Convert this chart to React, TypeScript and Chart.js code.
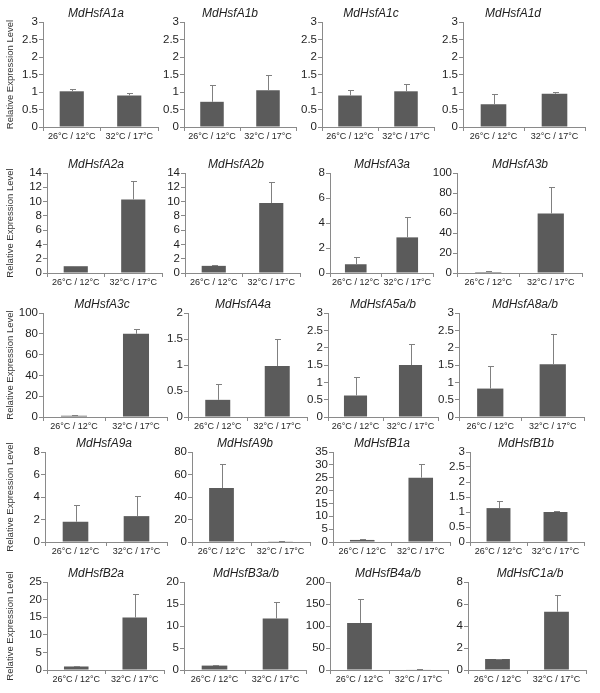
import React, { useEffect, useRef } from 'react';
import { Chart, registerables } from 'chart.js';

Chart.register(...registerables);
Chart.defaults.font.family = '"Liberation Sans", Arial, sans-serif';

// ---------- data ----------
const categories = ['26°C / 12°C', '32°C / 17°C'];
const genes = [
  'MdHsfA1a', 'MdHsfA1b', 'MdHsfA1c', 'MdHsfA1d',
  'MdHsfA2a', 'MdHsfA2b', 'MdHsfA3a', 'MdHsfA3b',
  'MdHsfA3c', 'MdHsfA4a', 'MdHsfA5a/b', 'MdHsfA8a/b',
  'MdHsfA9a', 'MdHsfA9b', 'MdHsfB1a', 'MdHsfB1b',
  'MdHsfB2a', 'MdHsfB3a/b', 'MdHsfB4a/b', 'MdHsfC1a/b',
];
const yMax = [3, 3, 3, 3, 14, 14, 8, 100, 100, 2, 3, 3, 8, 80, 35, 3, 25, 20, 200, 8];
const yStep = [0.5, 0.5, 0.5, 0.5, 2, 2, 2, 20, 20, 0.5, 0.5, 0.5, 2, 20, 5, 0.5, 5, 5, 50, 2];
const mean26 = [1.02, 0.72, 0.9, 0.65, 0.95, 1.0, 0.7, 1.0, 1.2, 0.33, 0.62, 0.82, 1.8, 48, 0.8, 1.13, 1.0, 1.0, 107, 1.0];
const err26 = [0.08, 0.47, 0.15, 0.3, 0.1, 0.1, 0.55, 0.6, 0.6, 0.3, 0.52, 0.66, 1.45, 21.5, 0.2, 0.25, 0.12, 0.12, 55, 0.03];
const mean32 = [0.9, 1.05, 1.02, 0.95, 10.3, 9.8, 2.85, 59.5, 80, 0.98, 1.5, 1.52, 2.3, 0.6, 25, 1.0, 14.9, 11.7, 1.0, 5.3];
const err32 = [0.08, 0.45, 0.2, 0.06, 2.6, 3.0, 1.6, 26.5, 5, 0.52, 0.6, 0.88, 1.8, 0.3, 5.3, 0.02, 6.7, 3.8, 0.5, 1.5];
const yAxisTitle = 'Relative Expression Level';

// ---------- layout (pixel geometry of each panel's plot area) ----------
const rowTop = [22, 173, 313, 452, 582];
const rowBottom = [127, 273, 417, 542, 670];
const plotLeft = [43, 184, 322, 463, 47, 185, 330, 457, 43, 188, 328, 459, 45, 192, 333, 470, 47, 184, 330, 468];
const plotRight = [158, 296, 434, 585, 162, 300, 433, 582, 167, 307, 438, 584, 167, 310, 450, 584, 164, 306, 448, 586];
const titleX = [96, 230, 371, 513, 96, 236, 382, 520, 102, 243, 383, 525, 104, 245, 382, 526, 96, 246, 388, 530];

// ---------- styles ----------
const BAR = '#5b5b5b';
const AXIS = '#8a8a8a';
const ERR = '#808080';
const TEXT = '#1e1e1e';

const errorBarPlugin = {
  id: 'errorBars',
  afterDatasetsDraw(chart: any) {
    const ds = chart.data.datasets[0];
    const meta = chart.getDatasetMeta(0);
    const ys = chart.scales.y;
    const ctx = chart.ctx;
    ctx.save();
    ctx.strokeStyle = ERR;
    ctx.lineWidth = 1;
    meta.data.forEach((bar: any, j: number) => {
      const v = ds.data[j];
      const e = ds.errors[j];
      const x = Math.round(bar.x) + 0.5;
      const y0 = ys.getPixelForValue(v);
      const y1 = Math.round(ys.getPixelForValue(v + e)) + 0.5;
      ctx.beginPath();
      ctx.moveTo(x, y0);
      ctx.lineTo(x, y1);
      ctx.moveTo(x - 2.5, y1);
      ctx.lineTo(x + 3.5, y1);
      ctx.stroke();
    });
    ctx.restore();
  },
};

const makeTitlePlugin = (text: string, x: number) => ({
  id: 'panelTitle',
  afterDraw(chart: any) {
    const ctx = chart.ctx;
    ctx.save();
    ctx.font = 'italic 12px "Liberation Sans", Arial, sans-serif';
    ctx.fillStyle = TEXT;
    ctx.textAlign = 'center';
    ctx.textBaseline = 'middle';
    ctx.fillText(text, x, chart.chartArea.top - 8);
    ctx.restore();
  },
});

const fmt = (v: any) => String(Number(Number(v).toFixed(2)));

function Panel({ i }: { i: number }) {
  const ref = useRef<HTMLCanvasElement>(null);
  const col = i % 4;
  const row = Math.floor(i / 4);
  const L = plotLeft[i];
  const R = plotRight[i];
  const T = rowTop[row];
  const B = rowBottom[row];
  const yW = col === 0 ? L - 3 : 30;
  const cl = L - yW;
  const padTop = 16;
  const xH = 16;
  const padRight = 6;
  const ct = T - padTop;
  const w = R + padRight - cl;
  const h = B - T + padTop + xH;

  useEffect(() => {
    const chart = new Chart(ref.current as HTMLCanvasElement, {
      type: 'bar',
      data: {
        labels: categories,
        datasets: [
          {
            data: [mean26[i], mean32[i]],
            errors: [err26[i], err32[i]],
            backgroundColor: BAR,
            borderWidth: 0,
            barPercentage: 0.42,
            categoryPercentage: 1,
          } as any,
        ],
      },
      options: {
        responsive: false,
        animation: false,
        devicePixelRatio: 1,
        layout: { padding: { top: padTop, right: padRight, left: 0, bottom: 0 } },
        plugins: { legend: { display: false }, tooltip: { enabled: false }, title: { display: false } },
        scales: {
          x: {
            offset: true,
            grid: { display: true, offset: true, drawOnChartArea: false, drawTicks: true, tickLength: 4, color: AXIS },
            border: { display: true, color: AXIS, width: 1 },
            ticks: { autoSkip: false, maxRotation: 0, minRotation: 0, padding: 0, color: TEXT, font: { size: 9 } },
            afterFit: (s: any) => { s.height = xH; },
          },
          y: {
            min: 0,
            max: yMax[i],
            grid: { display: true, drawOnChartArea: false, drawTicks: true, tickLength: 4, color: AXIS },
            border: { display: true, color: AXIS, width: 1 },
            ticks: {
              stepSize: yStep[i],
              autoSkip: false,
              padding: 1,
              color: TEXT,
              font: { size: 11.5, lineHeight: 1 },
              callback: (v: any) => fmt(v),
            },
            title: {
              display: col === 0,
              text: yAxisTitle,
              color: '#333',
              font: { size: 9.5 },
              padding: { top: 2, bottom: 0 },
            },
            afterFit: (s: any) => { s.width = yW; },
          },
        },
      } as any,
      plugins: [errorBarPlugin, makeTitlePlugin(genes[i], titleX[i] - cl)],
    });
    return () => chart.destroy();
  }, []);

  return (
    <canvas
      ref={ref}
      width={w}
      height={h}
      style={{ position: 'absolute', left: cl, top: ct, width: w, height: h }}
    />
  );
}

export default function App() {
  return (
    <div style={{ position: 'absolute', left: 0, top: 0, width: 600, height: 693, background: '#fff', overflow: 'hidden' }}>
      {genes.map((_, i) => (
        <Panel key={i} i={i} />
      ))}
    </div>
  );
}
